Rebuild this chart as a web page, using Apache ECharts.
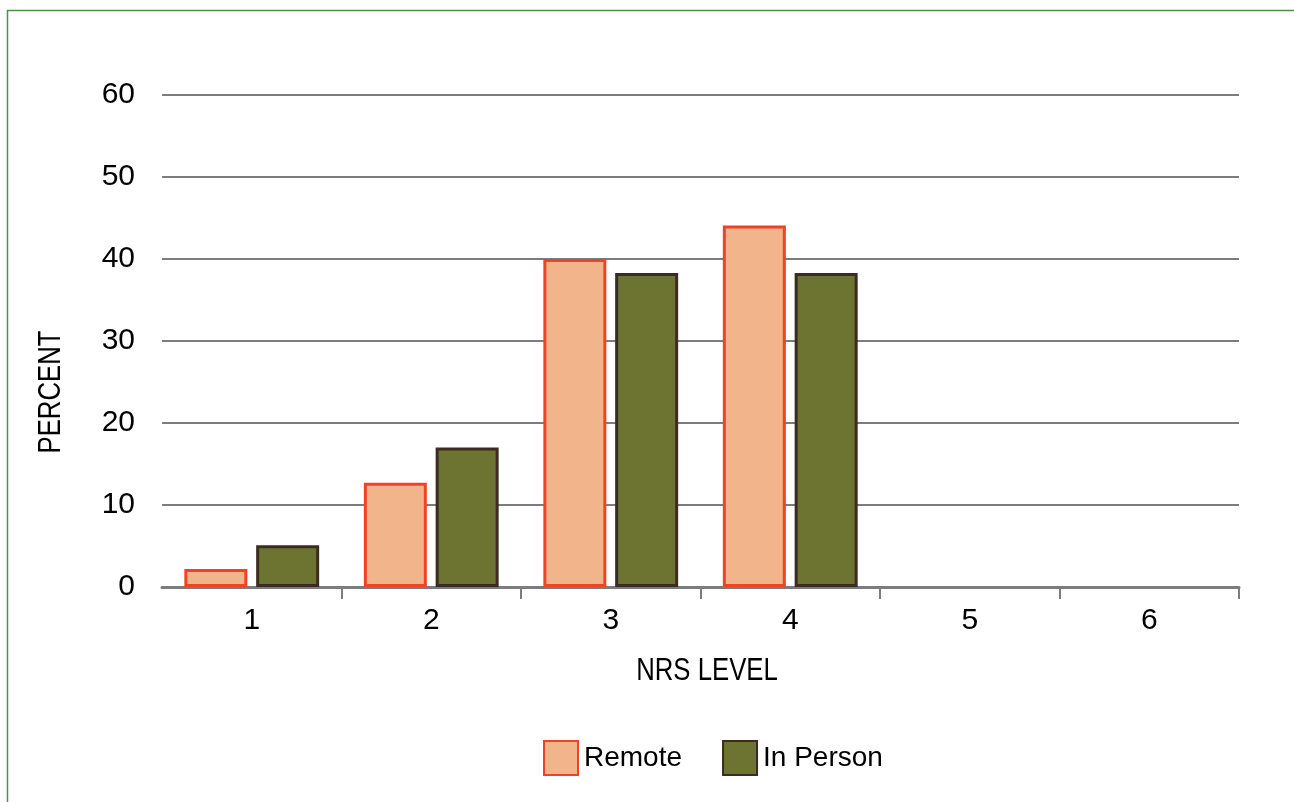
<!DOCTYPE html>
<html>
<head>
<meta charset="utf-8">
<title>NRS Level by Visit Type</title>
<script src="https://cdn.jsdelivr.net/npm/echarts@6/dist/echarts.min.js"></script>
<style>
  html, body { margin: 0; padding: 0; background: #ffffff; }
  #chart { width: 1294px; height: 802px; }
</style>
</head>
<body>
<div id="chart"></div>
<script>
// NRS levels on the x axis
const categories = ['1', '2', '3', '4', '5', '6'];
// Percent of patients at each NRS level
const remoteValues = [2.2, 12.7, 40.0, 44.1, 0, 0];
const inPersonValues = [5.1, 17.0, 38.3, 38.3, 0, 0];
const seriesNames = ['Remote', 'In Person'];
const yTicks = { min: 0, max: 60, interval: 10 };

const FONT = "'Liberation Sans Narrow', 'Liberation Sans', Arial, sans-serif";
const AXIS_GRAY = '#7b7b80';
// Condensed look for the axis titles
const NARROW = 0.83;

// Levels with no patients get no bar at all (not even a flat outline)
const asBars = (values) => values.map((v) => (v === 0 ? '-' : v));

const chart = echarts.init(document.getElementById('chart'), null, { renderer: 'canvas' });

chart.setOption({
  backgroundColor: '#ffffff',
  animation: false,
  textStyle: { fontFamily: FONT, color: '#000000' },
  grid: { left: 162, right: 55, top: 95, bottom: 215, containLabel: false },
  legend: {
    data: seriesNames,
    left: 538,
    top: 735,
    itemWidth: 34,
    itemHeight: 34,
    itemGap: 40,
    textStyle: { fontFamily: FONT, fontSize: 28, color: '#000000', padding: [0, 0, 0, 1] },
    icon: 'rect'
  },
  xAxis: {
    type: 'category',
    data: categories,
    boundaryGap: true,
    axisLine: { show: true, lineStyle: { color: AXIS_GRAY, width: 3 } },
    axisTick: {
      show: true,
      length: 12,
      lineStyle: { color: AXIS_GRAY, width: 2 },
      interval: (index) => index !== 0
    },
    axisLabel: { fontFamily: FONT, fontSize: 30, color: '#000000', margin: 19 },
    splitLine: { show: false }
  },
  yAxis: {
    type: 'value',
    min: yTicks.min,
    max: yTicks.max,
    interval: yTicks.interval,
    axisLine: { show: false },
    axisTick: { show: false },
    axisLabel: { fontFamily: FONT, fontSize: 30, color: '#000000', margin: 27 },
    splitLine: { show: true, lineStyle: { color: AXIS_GRAY, width: 2 } }
  },
  series: [
    {
      name: seriesNames[0],
      type: 'bar',
      data: asBars(remoteValues),
      barWidth: 63,
      barGap: '14%',
      itemStyle: { color: '#F1B48B', borderColor: '#EF4326', borderWidth: 3 }
    },
    {
      name: seriesNames[1],
      type: 'bar',
      data: asBars(inPersonValues),
      barWidth: 63,
      barGap: '14%',
      itemStyle: { color: '#6D7431', borderColor: '#3B2B21', borderWidth: 3 }
    }
  ],
  graphic: [
    {
      // thin green frame running off the right and bottom edges
      type: 'rect',
      silent: true,
      shape: { x: 7.5, y: 10.5, width: 1400, height: 900 },
      style: { fill: 'none', stroke: '#4a8f4a', lineWidth: 1.5 }
    },
    {
      type: 'text',
      silent: true,
      x: 51,
      y: 392,
      rotation: Math.PI / 2,
      scaleX: NARROW,
      style: {
        text: 'PERCENT',
        fontFamily: FONT,
        fontSize: 31,
        fill: '#000000',
        align: 'center',
        verticalAlign: 'middle'
      }
    },
    {
      type: 'text',
      silent: true,
      x: 707,
      y: 671,
      scaleX: NARROW,
      style: {
        text: 'NRS LEVEL',
        fontFamily: FONT,
        fontSize: 31,
        fill: '#000000',
        align: 'center',
        verticalAlign: 'middle'
      }
    }
  ]
});
</script>
</body>
</html>
